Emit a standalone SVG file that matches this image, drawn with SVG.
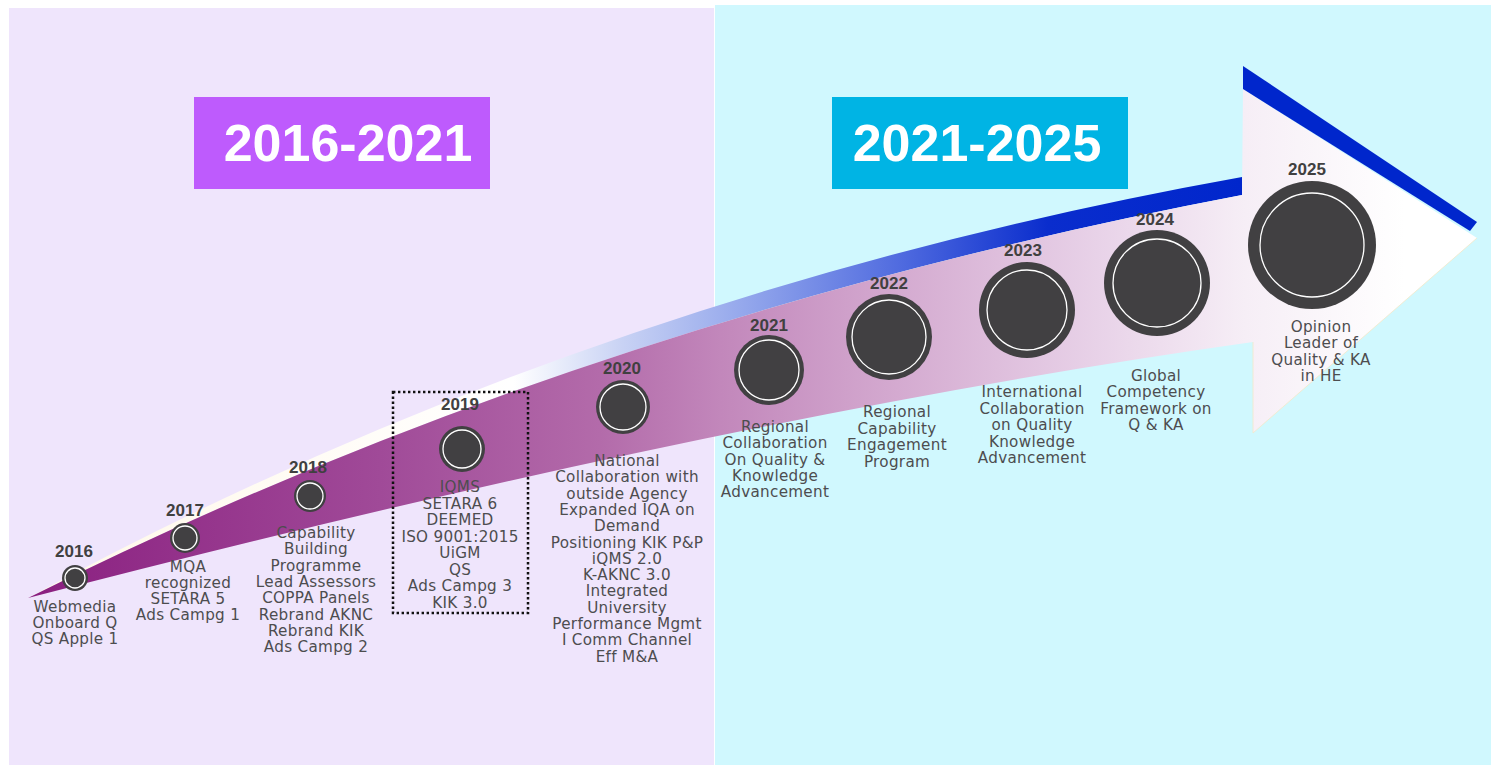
<svg xmlns="http://www.w3.org/2000/svg" width="1491" height="765" viewBox="0 0 1491 765">
  <defs>
    <linearGradient id="bandGrad" gradientUnits="userSpaceOnUse" x1="28" y1="0" x2="1477" y2="0">
      <stop offset="0" stop-color="#8A1F80"/>
      <stop offset="0.243" stop-color="#A04A98"/>
      <stop offset="0.395" stop-color="#B36BAA"/>
      <stop offset="0.478" stop-color="#C287BB"/>
      <stop offset="0.6" stop-color="#D4AAD0"/>
      <stop offset="0.738" stop-color="#E8D2E8"/>
      <stop offset="0.84" stop-color="#F6EEF6"/>
      <stop offset="0.95" stop-color="#FFFFFF"/>
    </linearGradient>
    <linearGradient id="stripeGrad" gradientUnits="userSpaceOnUse" x1="28" y1="0" x2="1242" y2="0">
      <stop offset="0" stop-color="#FFF8E8"/>
      <stop offset="0.4" stop-color="#FFFFFF"/>
      <stop offset="0.49" stop-color="#C8D2F4"/>
      <stop offset="0.6" stop-color="#8FA3EB"/>
      <stop offset="0.72" stop-color="#4F6ADF"/>
      <stop offset="0.84" stop-color="#0A2DCD"/>
      <stop offset="1" stop-color="#0026CC"/>
    </linearGradient>
    <style>
      .yr { font-family: "Liberation Sans", Arial, sans-serif; font-weight: bold; font-size: 17px; fill: #404040; text-anchor: middle; }
      .lbl { font-family: "DejaVu Sans", "Liberation Sans", sans-serif; font-size: 15.2px; fill: #4D4D4F; text-anchor: middle; letter-spacing: 0.3px; }
      .dot { fill: #414042; }
      .ring { fill: none; stroke: #FFFFFF; stroke-width: 1.3; }
      .title { font-family: "Liberation Sans", Arial, sans-serif; font-weight: bold; font-size: 52px; fill: #FFFFFF; text-anchor: middle; }
    </style>
  </defs>

  <rect x="0" y="0" width="1491" height="765" fill="#FFFFFF"/>
  <rect id="panel-left" x="9" y="8" width="705" height="757" fill="#EFE5FC"/>
  <rect id="panel-right" x="715" y="5" width="776" height="760" fill="#D0F8FE"/>

  <g id="title-2016-2021">
    <rect x="194" y="97" width="296" height="92" fill="#BE5BFD"/>
    <text class="title" x="348" y="161">2016-2021</text>
  </g>
  <g id="title-2021-2025">
    <rect x="832" y="97" width="296" height="92" fill="#00B4E4"/>
    <text class="title" x="977" y="161">2021-2025</text>
  </g>

  <g id="arrow">
    <path d="M28,598 Q584,295 1242,177 L1242,195 Q584,320 28,598 Z" fill="url(#stripeGrad)"/>
    <path d="M28,598 Q584,320 1242,195 L1243,89 L1477,238 L1253,433 L1253,342 Q732,415 28,598 Z" fill="url(#bandGrad)"/>
    <path d="M1253,342 L1253,433 L1477,238" fill="none" stroke="#F4E9C8" stroke-width="0.8"/>
    <polygon points="1243,66 1477,222 1470,231 1243,89" fill="#0026CC"/>
  </g>

  <g id="box-2019">
    <rect x="393" y="392" width="135" height="221" fill="none" stroke="#111111" stroke-width="2.5" stroke-dasharray="2.4 2.6"/>
  </g>

  <g id="m2016">
    <text class="yr" x="74" y="557">2016</text>
    <circle class="dot" cx="75" cy="578" r="13"/>
    <circle class="ring" cx="75" cy="578" r="10"/>
    <text class="lbl" x="75" y="612">Webmedia<tspan x="75" dy="16">Onboard Q</tspan><tspan x="75" dy="16">QS Apple 1</tspan></text>
  </g>
  <g id="m2017">
    <text class="yr" x="185" y="516">2017</text>
    <circle class="dot" cx="185" cy="538" r="15"/>
    <circle class="ring" cx="185" cy="538" r="12"/>
    <text class="lbl" x="188" y="572">MQA<tspan x="188" dy="16">recognized</tspan><tspan x="188" dy="16">SETARA 5</tspan><tspan x="188" dy="16">Ads Campg 1</tspan></text>
  </g>
  <g id="m2018">
    <text class="yr" x="308" y="473">2018</text>
    <circle class="dot" cx="310" cy="496" r="16"/>
    <circle class="ring" cx="310" cy="496" r="13"/>
    <text class="lbl" x="316" y="538">Capability<tspan x="316" dy="16.3">Building</tspan><tspan x="316" dy="16.3">Programme</tspan><tspan x="316" dy="16.3">Lead Assessors</tspan><tspan x="316" dy="16.3">COPPA Panels</tspan><tspan x="316" dy="16.3">Rebrand AKNC</tspan><tspan x="316" dy="16.3">Rebrand KIK</tspan><tspan x="316" dy="16.3">Ads Campg 2</tspan></text>
  </g>
  <g id="m2019">
    <text class="yr" x="460" y="410">2019</text>
    <circle class="dot" cx="462" cy="449" r="23"/>
    <circle class="ring" cx="462" cy="449" r="19"/>
    <text class="lbl" x="460" y="492">IQMS<tspan x="460" dy="16.5">SETARA 6</tspan><tspan x="460" dy="16.5">DEEMED</tspan><tspan x="460" dy="16.5">ISO 9001:2015</tspan><tspan x="460" dy="16.5">UiGM</tspan><tspan x="460" dy="16.5">QS</tspan><tspan x="460" dy="16.5">Ads Campg 3</tspan><tspan x="460" dy="16.5">KIK 3.0</tspan></text>
  </g>
  <g id="m2020">
    <text class="yr" x="622" y="374">2020</text>
    <circle class="dot" cx="623" cy="407" r="27"/>
    <circle class="ring" cx="623" cy="407" r="23"/>
    <text class="lbl" x="627" y="466">National<tspan x="627" dy="16.3">Collaboration with</tspan><tspan x="627" dy="16.3">outside Agency</tspan><tspan x="627" dy="16.3">Expanded IQA on</tspan><tspan x="627" dy="16.3">Demand</tspan><tspan x="627" dy="16.3">Positioning KIK P&amp;P</tspan><tspan x="627" dy="16.3">iQMS 2.0</tspan><tspan x="627" dy="16.3">K-AKNC 3.0</tspan><tspan x="627" dy="16.3">Integrated</tspan><tspan x="627" dy="16.3">University</tspan><tspan x="627" dy="16.3">Performance Mgmt</tspan><tspan x="627" dy="16.3">I Comm Channel</tspan><tspan x="627" dy="16.3">Eff M&amp;A</tspan></text>
  </g>
  <g id="m2021">
    <text class="yr" x="769" y="331">2021</text>
    <circle class="dot" cx="769" cy="370" r="35"/>
    <circle class="ring" cx="769" cy="370" r="30"/>
    <text class="lbl" x="775" y="432">Regional<tspan x="775" dy="16.3">Collaboration</tspan><tspan x="775" dy="16.3">On Quality &amp;</tspan><tspan x="775" dy="16.3">Knowledge</tspan><tspan x="775" dy="16.3">Advancement</tspan></text>
  </g>
  <g id="m2022">
    <text class="yr" x="889" y="289">2022</text>
    <circle class="dot" cx="889" cy="337" r="43"/>
    <circle class="ring" cx="889" cy="337" r="37"/>
    <text class="lbl" x="897" y="417">Regional<tspan x="897" dy="16.5">Capability</tspan><tspan x="897" dy="16.5">Engagement</tspan><tspan x="897" dy="16.5">Program</tspan></text>
  </g>
  <g id="m2023">
    <text class="yr" x="1023" y="256">2023</text>
    <circle class="dot" cx="1027" cy="310" r="48"/>
    <circle class="ring" cx="1027" cy="310" r="40"/>
    <text class="lbl" x="1032" y="397">International<tspan x="1032" dy="16.5">Collaboration</tspan><tspan x="1032" dy="16.5">on Quality</tspan><tspan x="1032" dy="16.5">Knowledge</tspan><tspan x="1032" dy="16.5">Advancement</tspan></text>
  </g>
  <g id="m2024">
    <text class="yr" x="1155" y="225">2024</text>
    <circle class="dot" cx="1157" cy="283" r="53"/>
    <circle class="ring" cx="1157" cy="283" r="44"/>
    <text class="lbl" x="1156" y="381">Global<tspan x="1156" dy="16.4">Competency</tspan><tspan x="1156" dy="16.4">Framework on</tspan><tspan x="1156" dy="16.4">Q &amp; KA</tspan></text>
  </g>
  <g id="m2025">
    <text class="yr" x="1307" y="175">2025</text>
    <circle class="dot" cx="1312" cy="245" r="64"/>
    <circle class="ring" cx="1312" cy="245" r="52"/>
    <text class="lbl" x="1321" y="332">Opinion<tspan x="1321" dy="16.3">Leader of</tspan><tspan x="1321" dy="16.3">Quality &amp; KA</tspan><tspan x="1321" dy="16.3">in HE</tspan></text>
  </g>
</svg>
